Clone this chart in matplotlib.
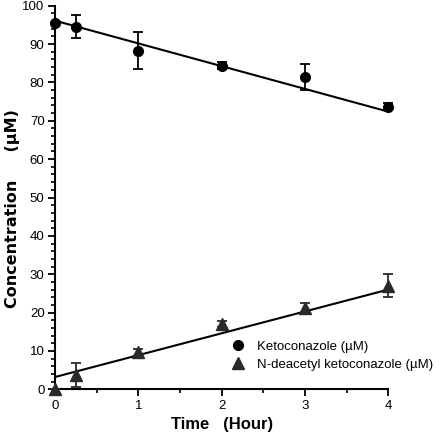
import matplotlib
matplotlib.use("Agg")
import matplotlib.pyplot as plt
import numpy as np
from matplotlib.ticker import MultipleLocator

plt.rcParams['font.family'] = ['Liberation Sans', 'DejaVu Sans']

time = [0, 0.25, 1, 2, 3, 4]
keto = [95.6, 94.5, 88.3, 84.4, 81.4, 73.7]
keto_err = [0.0, 3.0, 4.8, 1.0, 3.4, 1.0]
ndk = [0.0, 3.7, 9.6, 17.0, 21.1, 27.0]
ndk_err = [0.0, 3.2, 0.8, 0.8, 1.5, 3.0]
keto_fit = [96.1, -5.93]   # intercept, slope
ndk_fit = [3.2, 5.7]
fit_x = [0, 4]

fig = plt.figure(figsize=(4.40, 4.37), dpi=100)
ax = fig.add_axes([55/440, 1-389.3/437, (388.3-55)/440, (389.3-5.7)/437])

ax.errorbar(time, keto, yerr=keto_err, fmt='o', color='black', markersize=7,
            capsize=3.5, elinewidth=1.3, capthick=1.3, clip_on=False, zorder=3,
            label='Ketoconazole (\u00b5M)')
ax.errorbar(time, ndk, yerr=ndk_err, fmt='^', color='#2a2a2a', markersize=9,
            capsize=3.5, elinewidth=1.3, capthick=1.3, clip_on=False, zorder=3,
            label='N-deacetyl ketoconazole (\u00b5M)')

fx = np.array(fit_x, dtype=float)
ax.plot(fx, keto_fit[0] + keto_fit[1]*fx, color='black', lw=1.5, zorder=2)
ax.plot(fx, ndk_fit[0] + ndk_fit[1]*fx, color='black', lw=1.5, zorder=2)

ax.set_xlim(0, 4)
ax.set_ylim(0, 100)
ax.spines['top'].set_visible(False)
ax.spines['right'].set_visible(False)
ax.spines['left'].set_linewidth(1.5)
ax.spines['bottom'].set_linewidth(1.5)
ax.xaxis.set_major_locator(MultipleLocator(1))
ax.xaxis.set_minor_locator(MultipleLocator(0.5))
ax.yaxis.set_major_locator(MultipleLocator(10))
ax.yaxis.set_minor_locator(MultipleLocator(2))
ax.tick_params(which='major', length=5, width=1.3, labelsize=9.5, direction='out', pad=2.5)
ax.tick_params(which='minor', length=3, width=1.2, direction='out')

ax.set_xlabel('Time   (Hour)', fontsize=12, fontweight='bold', labelpad=4)
ax.set_ylabel('Concentration     (\u00b5M)', fontsize=11.5, fontweight='bold',
              family=['DejaVu Sans'])
ax.yaxis.set_label_coords(-0.105, 0.47)

handles, labels = ax.get_legend_handles_labels()
handles = [h[0] for h in handles]
leg = fig.legend(handles, labels, loc='upper left', bbox_to_anchor=(223/440, 1-334/437),
                 frameon=False, fontsize=9.5, handlelength=1.2, handletextpad=0.9,
                 labelspacing=0.45, borderpad=0)

fig.savefig('out.png', dpi=100)
